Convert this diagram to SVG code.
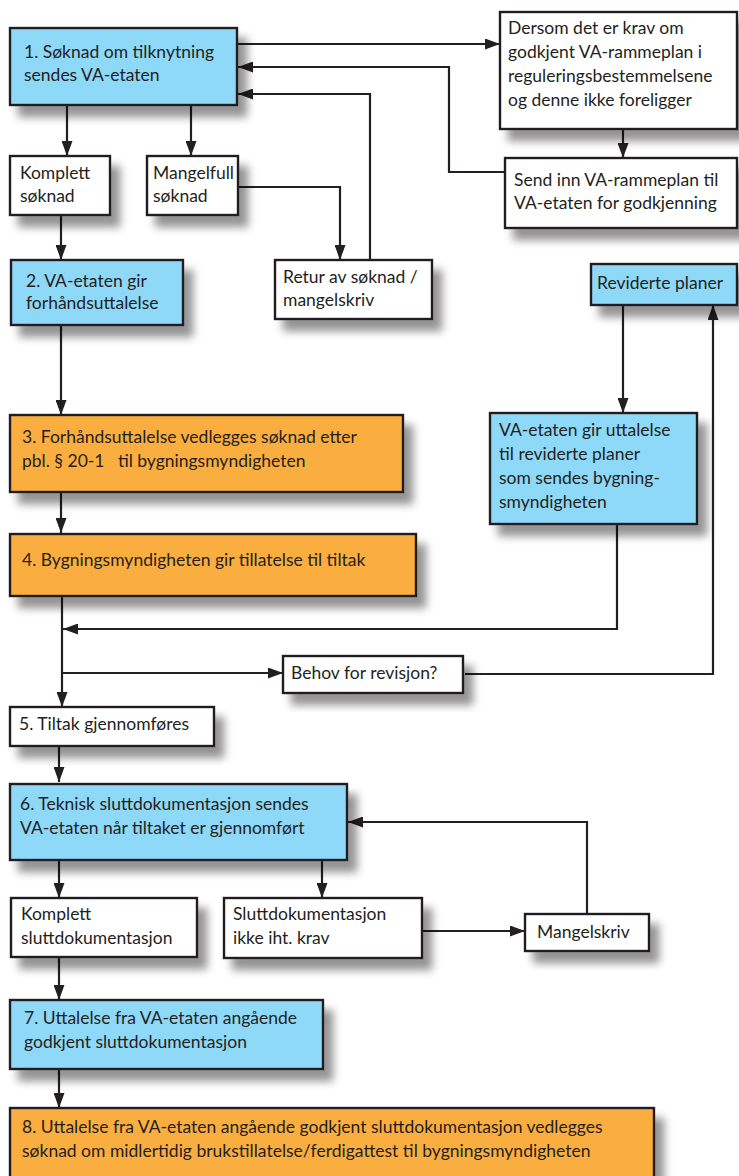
<svg xmlns="http://www.w3.org/2000/svg" width="739" height="1176" viewBox="0 0 739 1176">
<defs>
<filter id="sh" x="-20%" y="-30%" width="150%" height="180%">
<feGaussianBlur in="SourceAlpha" stdDeviation="4.5"/>
<feOffset dx="9" dy="11" result="b"/>
<feFlood flood-color="#000" flood-opacity="0.42"/>
<feComposite in2="b" operator="in" result="s"/>
<feMerge><feMergeNode in="s"/><feMergeNode in="SourceGraphic"/></feMerge>
</filter>
<marker id="ah" viewBox="0 0 15 11" refX="15" refY="5.5" markerWidth="15" markerHeight="11" orient="auto" markerUnits="userSpaceOnUse">
<path d="M0,0 L15,5.5 L0,11 z" fill="#231f20"/>
</marker>
</defs>
<style>
.box rect{stroke:#231f20;stroke-width:2.4;filter:url(#sh)}
.blue rect{fill:#8ed8f8}
.orange rect{fill:#fbae40}
.white rect{fill:#ffffff}
text{font-family:Lato,"Liberation Sans",sans-serif;font-size:17.5px;fill:#231f20}
#connectors path{fill:none;stroke:#231f20;stroke-width:2.2;marker-end:url(#ah)}
</style>
<rect width="739" height="1176" fill="#ffffff"/>

<g id="connectors">
<path d="M237,44 H500"/>
<path d="M623,129 V158"/>
<path d="M505,172 H449 V67 H238"/>
<path d="M370,260 V94 H238"/>
<path d="M67,105 V156"/>
<path d="M191,105 V156"/>
<path d="M238,187 H340 V260"/>
<path d="M61,215 V260"/>
<path d="M61,325 V415"/>
<path d="M61,492 V533"/>
<path d="M62,596 V707"/>
<path d="M617,524 V629 H63"/>
<path d="M62,673 H283"/>
<path d="M465,674 H713 V305"/>
<path d="M623,305 V413"/>
<path d="M59,746 V782"/>
<path d="M59,860 V898"/>
<path d="M322,860 V898"/>
<path d="M422,931 H525"/>
<path d="M587,914 V822 H348"/>
<path d="M59,957 V1000"/>
<path d="M59,1069 V1108"/>
</g>

<g id="n1" class="box blue"><rect x="10" y="28" width="227" height="77"/>
<text x="24" y="58">1. Søknad om tilknytning</text><text x="24" y="81">sendes VA-etaten</text></g>

<g id="n-dersom" class="box white"><rect x="500" y="12" width="237" height="117"/>
<text x="508" y="34">Dersom det er krav om</text><text x="508" y="58">godkjent VA-rammeplan i</text><text x="508" y="82">reguleringsbestemmelsene</text><text x="508" y="106">og denne ikke foreligger</text></g>

<g id="n-sendinn" class="box white"><rect x="505" y="158" width="232" height="70"/>
<text x="514" y="186">Send inn VA-rammeplan til</text><text x="514" y="209">VA-etaten for godkjenning</text></g>

<g id="n-komplett" class="box white"><rect x="10" y="156" width="100" height="59"/>
<text x="20" y="179">Komplett</text><text x="20" y="202">søknad</text></g>

<g id="n-mangelfull" class="box white"><rect x="147" y="156" width="91" height="59"/>
<text x="153" y="179">Mangelfull</text><text x="153" y="202">søknad</text></g>

<g id="n-retur" class="box white"><rect x="275" y="260" width="157" height="59"/>
<text x="283" y="283">Retur av søknad /</text><text x="283" y="306">mangelskriv</text></g>

<g id="n2" class="box blue"><rect x="11" y="260" width="172" height="65"/>
<text x="26" y="287">2. VA-etaten gir</text><text x="26" y="309">forhåndsuttalelse</text></g>

<g id="n-reviderte" class="box blue"><rect x="591" y="264" width="146" height="41"/>
<text x="597" y="289">Reviderte planer</text></g>

<g id="n-uttalelse" class="box blue"><rect x="490" y="413" width="207" height="111"/>
<text x="499" y="436">VA-etaten gir uttalelse</text><text x="499" y="460">til reviderte planer</text><text x="499" y="484">som sendes bygning-</text><text x="499" y="508">smyndigheten</text></g>

<g id="n3" class="box orange"><rect x="10" y="415" width="393" height="77"/>
<text x="22" y="443" style="white-space:pre">3. Forhåndsuttalelse vedlegges søknad etter</text><text x="22" y="467" style="white-space:pre">pbl. § 20-1   til bygningsmyndigheten</text></g>

<g id="n4" class="box orange"><rect x="10" y="534" width="406" height="62"/>
<text x="22" y="566">4. Bygningsmyndigheten gir tillatelse til tiltak</text></g>

<g id="n-behov" class="box white"><rect x="283" y="656" width="180" height="37"/>
<text x="291" y="679">Behov for revisjon?</text></g>

<g id="n5" class="box white"><rect x="10" y="707" width="204" height="39"/>
<text x="19" y="730">5. Tiltak gjennomføres</text></g>

<g id="n6" class="box blue"><rect x="10" y="784" width="337" height="76"/>
<text x="20" y="810">6. Teknisk sluttdokumentasjon sendes</text><text x="20" y="834">VA-etaten når tiltaket er gjennomført</text></g>

<g id="n-kompslutt" class="box white"><rect x="11" y="898" width="186" height="59"/>
<text x="21" y="920">Komplett</text><text x="21" y="944">sluttdokumentasjon</text></g>

<g id="n-sluttikke" class="box white"><rect x="224" y="898" width="198" height="60"/>
<text x="233" y="920">Sluttdokumentasjon</text><text x="233" y="944">ikke iht. krav</text></g>

<g id="n-mangelskriv" class="box white"><rect x="525" y="914" width="124" height="37"/>
<text x="537" y="938">Mangelskriv</text></g>

<g id="n7" class="box blue"><rect x="10" y="1000" width="313" height="69"/>
<text x="24" y="1024">7. Uttalelse fra VA-etaten angående</text><text x="24" y="1048">godkjent sluttdokumentasjon</text></g>

<g id="n8" class="box orange"><rect x="10" y="1108" width="644" height="90"/>
<text x="22" y="1133">8. Uttalelse fra VA-etaten angående godkjent sluttdokumentasjon vedlegges</text><text x="22" y="1157">søknad om midlertidig brukstillatelse/ferdigattest til bygningsmyndigheten</text></g>
</svg>
